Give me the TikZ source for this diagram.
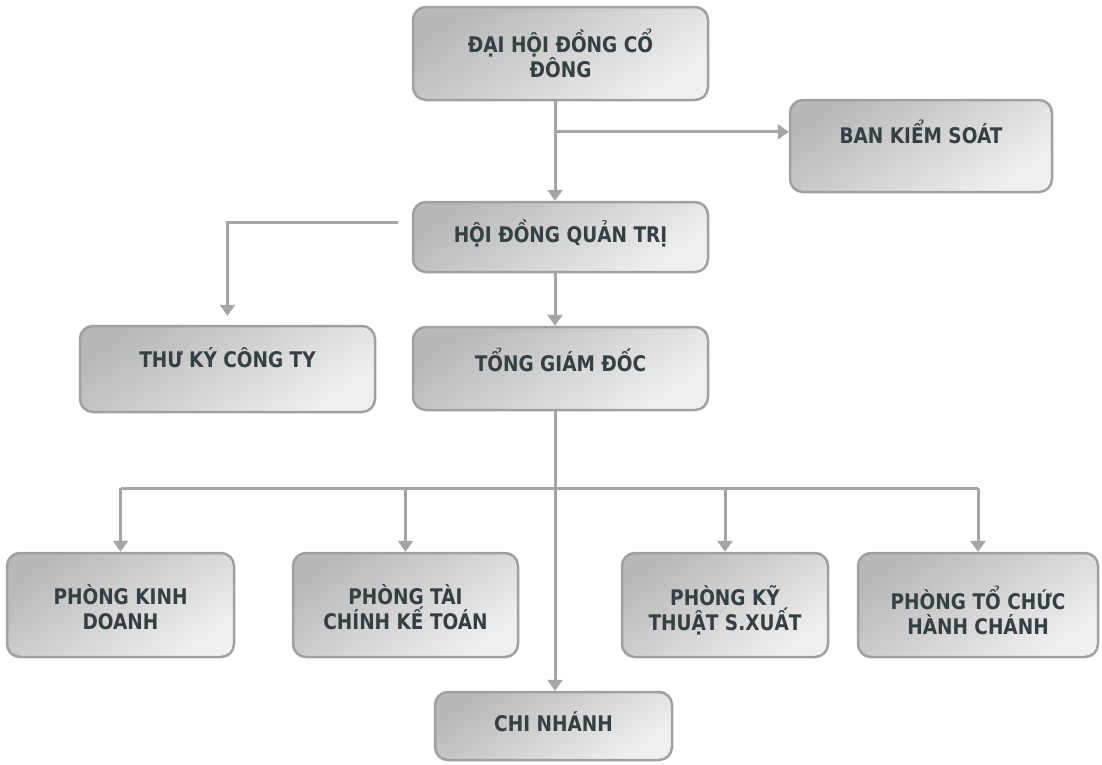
\documentclass[tikz,border=0pt]{standalone}
\usepackage{fontspec}
\setmainfont{DejaVu Sans}[FakeStretch=0.86]
\usetikzlibrary{arrows.meta,calc}
\definecolor{boxdark}{HTML}{B8B8B8}
\definecolor{boxlight}{HTML}{EFEFEF}
\definecolor{boxedge}{HTML}{A0A0A0}
\definecolor{txt}{HTML}{334045}
\definecolor{linec}{HTML}{A5A5A5}
\begin{document}
\begin{tikzpicture}[x=1pt,y=-1pt,
  box/.style={draw=boxedge, line width=2.5pt, rounded corners=13pt,
    top color=boxdark, bottom color=boxlight, shading angle=35, inner sep=0pt},
  lbl/.style={font=\bfseries\fontsize{21.5}{25}\selectfont, text=txt, align=center},
  conn/.style={draw=linec, line width=3pt},
  arr/.style={conn, -{Triangle[width=15pt,length=11pt]}},
]
\fill[white] (0,0) rectangle (1102,764);
\useasboundingbox (0,0) rectangle (1102,764);

% boxes
\node[box, minimum width=295pt, minimum height=93pt] (dh)   at (560.5,53.5) {};
\node[box, minimum width=262pt, minimum height=92pt] (bks)  at (921,146) {};
\node[box, minimum width=295pt, minimum height=70pt] (hdqt) at (560.5,237) {};
\node[box, minimum width=295pt, minimum height=86pt] (tk)   at (227.5,369) {};
\node[box, minimum width=295pt, minimum height=83pt] (tgd)  at (560.5,368.5) {};
\node[box, minimum width=227pt, minimum height=104pt] (pkd) at (120.5,605) {};
\node[box, minimum width=225pt, minimum height=104pt] (ptc) at (405.5,605) {};
\node[box, minimum width=206pt, minimum height=104pt] (pkt) at (725,605) {};
\node[box, minimum width=240pt, minimum height=104pt] (phc) at (978,605) {};
\node[box, minimum width=237pt, minimum height=68pt] (cn)   at (553.5,726) {};

% labels
\node[lbl] at (560.5,53.5) {ĐẠI HỘI ĐỒNG CỔ\\ĐÔNG};
\node[lbl] at (921,132) {BAN KIỂM SOÁT};
\node[lbl] at (560.5,233) {HỘI ĐỒNG QUẢN TRỊ};
\node[lbl] at (227.5,358) {THƯ KÝ CÔNG TY};
\node[lbl] at (560.5,360) {TỔNG GIÁM ĐỐC};
\node[lbl] at (120.5,607) {PHÒNG KINH\\DOANH};
\node[lbl] at (405.5,607) {PHÒNG TÀI\\CHÍNH KẾ TOÁN};
\node[lbl] at (725,610) {PHÒNG KỸ\\THUẬT S.XUẤT};
\node[lbl] at (978,610) {PHÒNG TỔ CHỨC\\HÀNH CHÁNH};
\node[lbl] at (553.5,722) {CHI NHÁNH};

% connectors
\coordinate (spine) at (555,0);
\coordinate (bus) at (0,488);
\coordinate (bksin) at ($(bks.north west)!0.35!(bks.south west)$);
\coordinate (hdqtout) at ($(hdqt.north west)!0.3!(hdqt.south west)$);

\draw[arr] (dh.south -| spine) -- (hdqt.north -| spine);
\draw[arr] (spine |- bksin) -- (bksin);
\draw[arr] (hdqt.south -| spine) -- (tgd.north -| spine);
\draw[arr, shorten <=14pt, shorten >=9pt] (hdqtout) -| (tk.north);
\draw[arr] (tgd.south -| spine) -- (cn.north -| spine);
\draw[conn] (pkd.north |- bus) -- (phc.north |- bus);
\draw[arr] (pkd.north |- bus) -- (pkd.north);
\draw[arr] (ptc.north |- bus) -- (ptc.north);
\draw[arr] (pkt.north |- bus) -- (pkt.north);
\draw[arr] (phc.north |- bus) -- (phc.north);
\end{tikzpicture}
\end{document}
